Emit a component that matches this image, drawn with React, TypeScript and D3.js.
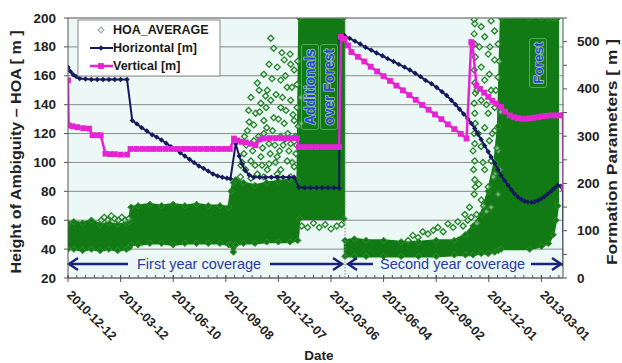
import React from "react";
import * as d3 from "d3";

// ---------- data ----------
const START_UTC = Date.UTC(2010, 11, 12);
const LAST_DAY = 847;
const majorTickDays = [0, 90, 180, 270, 360, 450, 540, 630, 720, 810];
const leftTicks = [20, 40, 60, 80, 100, 120, 140, 160, 180, 200];
const rightTicks = [0, 100, 200, 300, 400, 500];

// Horizontal [m] : [day since 2010-12-12, metres]
const horizontal: [number, number][] = [
  [0, 446], [4, 437], [9, 430], [14, 426], [20, 422], [30, 421], [40, 420], [50, 420], [60, 420], [70, 420],
  [80, 420], [90, 420], [101, 420], [110, 333], [118, 326], [126, 318], [135, 311], [144, 303], [152, 298],
  [160, 292], [168, 285], [176, 278], [184, 272], [192, 265], [200, 258], [208, 251], [216, 244], [224, 237],
  [232, 232], [240, 226], [248, 220], [256, 216], [264, 213], [272, 211], [278, 210], [287, 284], [293, 258],
  [298, 241], [303, 228], [310, 218], [318, 213], [328, 213], [338, 213], [348, 213], [358, 213], [368, 213],
  [378, 213], [387, 213], [395, 192], [405, 191], [415, 191], [425, 191], [435, 191], [445, 191], [455, 191],
  [464, 190], [465, 505], [473, 513], [482, 507], [491, 501], [500, 495], [509, 488], [519, 482], [528, 476],
  [538, 470], [547, 464], [557, 458], [566, 452], [576, 446], [585, 440], [594, 433], [603, 426], [612, 418],
  [622, 411], [631, 403], [640, 394], [648, 386], [656, 376], [663, 367], [670, 357], [677, 347], [684, 337],
  [690, 327], [696, 316], [701, 306], [707, 293], [713, 280], [719, 267], [724, 256], [730, 243], [736, 229],
  [741, 217], [747, 206], [753, 196], [759, 186], [764, 178], [770, 171], [776, 166], [781, 163], [787, 161],
  [793, 160], [798, 161], [804, 164], [810, 168], [815, 172], [821, 178], [827, 184], [832, 190], [838, 196],
  [843, 194], [847, 193], [848, 28],
];

// Vertical [m]
const vertical: [number, number][] = [
  [0, 418], [1, 323], [8, 321], [16, 319], [26, 317], [36, 316], [42, 302], [50, 302], [56, 302], [64, 263],
  [72, 262], [80, 262], [90, 261], [101, 261], [107, 273], [117, 273], [127, 273], [137, 273], [147, 273],
  [157, 273], [167, 273], [177, 273], [187, 273], [197, 273], [207, 273], [217, 273], [227, 273], [237, 273],
  [247, 273], [257, 273], [267, 273], [277, 273], [284, 295], [290, 291], [297, 288], [304, 287], [312, 284],
  [321, 281], [328, 293], [335, 295], [345, 296], [355, 296], [365, 296], [375, 296], [385, 296], [392, 296],
  [395, 277], [405, 277], [415, 277], [425, 277], [435, 277], [445, 277], [455, 277], [464, 277], [467, 510],
  [473, 506], [479, 492], [485, 478], [496, 468], [507, 458], [518, 447], [529, 437], [540, 427], [551, 417],
  [562, 407], [573, 397], [584, 387], [595, 377], [606, 366], [617, 356], [628, 346], [639, 336], [650, 325],
  [661, 315], [672, 305], [682, 295], [690, 499], [692, 495], [699, 407], [705, 400], [712, 392], [719, 383],
  [726, 375], [733, 369], [741, 362], [748, 352], [756, 344], [763, 340], [770, 338], [776, 337], [783, 337],
  [790, 338], [797, 339], [804, 340], [811, 342], [818, 343], [827, 344], [835, 344], [842, 344], [847, 344],
  [848, 190],
];

// HOA_AVERAGE dense cloud envelope: [day, low HOA, high HOA]
const hoaBandFirstYear: [number, number, number][] = [
  [0, 40, 58], [10, 40, 59], [25, 39, 58], [40, 40, 60], [55, 39, 57], [70, 40, 58], [85, 39, 57],
  [100, 40, 58], [105, 41, 59], [108, 43, 69], [120, 43, 70], [140, 44, 71], [160, 44, 70], [180, 43, 71],
  [200, 44, 70], [220, 44, 71], [240, 44, 70], [260, 44, 70], [275, 43, 69], [279, 43, 80], [283, 38, 86],
  [287, 43, 88], [300, 44, 86], [320, 44, 84], [340, 45, 86], [360, 45, 87], [380, 45, 88], [393, 46, 88],
  [396, 61, 200], [472, 61, 200],
];
const hoaBandSecondYear: [number, number, number][] = [
  [474, 35, 46], [490, 35, 47], [510, 35, 46], [540, 35, 46], [570, 35, 45], [600, 35, 45], [630, 35, 46],
  [661, 36, 46], [680, 36, 50], [693, 36, 56], [707, 37, 64], [719, 37, 80], [730, 38, 100], [736, 39, 125],
  [741, 40, 200], [790, 40, 200], [810, 42, 200], [822, 44, 200], [830, 50, 200], [835, 60, 200], [838, 70, 200],
];
// HOA_AVERAGE scattered points outside the dense cloud: [day, HOA]
const hoaScatter: [number, number][] = [
  [57, 60], [62, 62], [68, 60], [74, 63], [80, 61], [86, 60], [92, 62], [98, 60], [104, 61],
  [347, 186], [352, 179], [344, 168], [335, 161], [358, 166], [370, 171], [381, 168], [387, 164], [324, 155],
  [341, 150], [364, 157], [375, 152], [392, 154], [313, 145], [330, 141], [347, 143], [364, 138], [381, 143],
  [392, 138], [321, 134], [335, 129], [352, 131], [370, 127], [387, 129], [307, 122], [318, 115], [335, 120],
  [344, 113], [364, 118], [381, 113], [301, 106], [313, 101], [330, 104], [344, 99], [358, 104], [375, 101],
  [304, 95], [324, 92], [341, 95], [364, 95], [387, 97], [295, 90], [313, 89], [335, 90], [358, 92], [381, 90],
  [298, 100], [305, 112], [310, 128], [316, 108], [320, 98], [326, 118], [328, 135], [333, 110], [338, 146],
  [340, 124], [346, 106], [349, 158], [350, 122], [354, 112], [356, 147], [360, 130], [362, 108], [366, 176],
  [367, 145], [368, 112], [372, 160], [373, 136], [376, 120], [378, 108], [380, 175], [383, 152], [385, 133],
  [389, 118], [390, 106], [393, 170], [394, 125], [296, 98], [302, 118], [309, 136], [318, 126], [327, 150],
  [332, 98], [339, 138], [355, 100], [371, 116], [384, 100], [391, 112],
  [398, 145], [399, 127], [400, 56], [410, 55], [420, 58], [430, 55], [440, 57], [450, 54], [460, 56], [468, 57],
  [582, 46], [590, 49.5], [599, 48], [607, 52], [616, 50.5], [625, 53], [633, 55], [642, 52], [650, 57.5],
  [659, 55], [667, 59], [676, 56], [679, 64], [684, 60], [687, 69], [690, 62], [700, 58], [699, 64],
  [695, 199], [696, 196], [695, 189], [696, 182], [697, 173], [695, 164], [696, 155], [697, 148], [695, 141],
  [696, 134], [697, 127], [695, 120], [696, 113], [693, 108], [696, 101], [694, 95], [696, 88], [697, 83], [695, 78],
  [707, 194], [713, 187], [724, 198], [730, 191], [736, 182], [719, 175], [730, 171], [707, 166], [721, 161],
  [713, 157], [736, 159], [724, 150], [707, 143], [730, 138], [719, 134], [713, 124], [730, 122], [721, 115],
  [707, 111], [736, 108], [724, 101], [713, 95], [730, 92], [719, 83], [736, 78], [707, 74], [724, 69],
  [700, 150], [702, 120], [704, 180], [710, 100], [716, 140], [722, 180], [726, 120], [728, 90], [732, 150],
  [734, 110], [738, 170], [739, 95], [740, 135], [703, 85], [711, 70], [716, 66],
];

// ---------- layout ----------
const W = 622, H = 363;
const PL = 68, PR = 563, PT = 18, PB = 278;
const FONT = "'Liberation Sans', Arial, sans-serif";
const NAVY = "#161a5c";
const MAGENTA = "#e424d4";
const GREEN = "#127a14";
const BLUE_TXT = "#2a40e0";

const toDate = (d: number) => new Date(START_UTC + d * 86400000);

export default function App() {
  const x = d3.scaleUtc().domain([toDate(0), toDate(LAST_DAY)]).range([PL, PR]);
  const yL = d3.scaleLinear().domain([20, 200]).range([PB, PT]);
  const yR = d3.scaleLinear().domain([0, 550]).range([PB, PT]);
  const fmt = d3.utcFormat("%Y-%m-%d");

  const lineR = d3.line<[number, number]>().x((d) => x(toDate(d[0]))).y((d) => yR(d[1]));
  const band = d3
    .area<[number, number, number]>()
    .x((d) => x(toDate(d[0])))
    .y0((d) => yL(d[1]))
    .y1((d) => yL(d[2]));

  const diamond = (cx: number, cy: number, r: number) =>
    `M${cx},${cy - r}L${cx + r},${cy}L${cx},${cy + r}L${cx - r},${cy}Z`;

  const minorDays = d3.range(0, LAST_DAY + 1, 15);
  const rightMinor = d3.range(0, 551, 50);

  const arrowY = 264;
  const chevron = (tipX: number, dir: number) =>
    `M${tipX + dir * 9},${arrowY - 6}L${tipX},${arrowY}L${tipX + dir * 9},${arrowY + 6}`;

  const labels = [
    { t: "Additionals", cx: 310, cy: 87, fs: 14, len: 77 },
    { t: "over Forest", cx: 329, cy: 87, fs: 14, len: 77 },
    { t: "Forest", cx: 538, cy: 63, fs: 13.5, len: 41 },
  ];

  return (
    <svg
      width={W}
      height={H}
      style={{ position: "absolute", left: 0, top: 0, background: "#fff" }}
      fontFamily={FONT}
    >
      <defs>
        <clipPath id="plot">
          <rect x={PL} y={PT} width={PR - PL} height={PB - PT} />
        </clipPath>
      </defs>
      <rect x={PL} y={PT} width={PR - PL} height={PB - PT} fill="#ecf8f5" />
      {leftTicks.map((t) => (
        <line key={"g" + t} x1={PL} x2={PR} y1={yL(t)} y2={yL(t)} stroke="#8a8a8a" strokeWidth={1} />
      ))}

      <g clipPath="url(#plot)">
        {[hoaBandFirstYear, hoaBandSecondYear].map((b, i) => (
          <g key={"b" + i}>
            <path d={band(b) || ""} fill={GREEN} stroke={GREEN} strokeWidth={2.5} strokeLinejoin="round" />
            {b.map((d, j) => (
              <g key={j}>
                <path d={diamond(x(toDate(d[0])), yL(d[2]), 3.2)} fill={GREEN} stroke="#2f8f2f" strokeWidth={1} />
                <path d={diamond(x(toDate(d[0])), yL(d[1]), 3.2)} fill={GREEN} stroke="#2f8f2f" strokeWidth={1} />
              </g>
            ))}
          </g>
        ))}
        {hoaScatter.map((d, i) => (
          <path
            key={"s" + i}
            d={diamond(x(toDate(d[0])), yL(d[1]), 3)}
            fill="#e4f4e4"
            fillOpacity={0.5}
            stroke="#23842a"
            strokeWidth={1.3}
          />
        ))}
      </g>

      {/* separator */}
      <line x1={x(toDate(474))} x2={x(toDate(474))} y1={PT} y2={PB} stroke="#7a8a8a" strokeWidth={1} strokeDasharray="1.5,1.5" />

      {/* annotation labels */}
      {labels.map((a) => (
        <g key={a.t}>
          <rect
            x={a.cx - 8.5}
            y={a.cy - a.len / 2 - 4}
            width={17}
            height={a.len + 8}
            rx={2}
            fill="none"
            stroke="#6fbf6f"
            strokeOpacity={0.7}
            strokeWidth={1}
          />
          <text
            transform={`translate(${a.cx},${a.cy}) rotate(-90)`}
            textAnchor="middle"
            dominantBaseline="central"
            fontSize={a.fs}
            fontWeight="bold"
            fill={BLUE_TXT}
            stroke="#8fd08f"
            strokeWidth={1.6}
            paintOrder="stroke"
            strokeLinejoin="round"
          >
            {a.t}
          </text>
        </g>
      ))}

      {/* formation lines */}
      <g clipPath="url(#plot)">
        <path d={lineR(horizontal) || ""} fill="none" stroke={NAVY} strokeWidth={2} />
        {horizontal.map((d, i) => (
          <path key={"h" + i} d={diamond(x(toDate(d[0])), yR(d[1]), 2.7)} fill={NAVY} />
        ))}
        <path d={lineR(vertical) || ""} fill="none" stroke={MAGENTA} strokeWidth={2.5} />
        {vertical.map((d, i) => (
          <rect key={"v" + i} x={x(toDate(d[0])) - 2.9} y={yR(d[1]) - 2.9} width={5.8} height={5.8} fill={MAGENTA} />
        ))}
      </g>

      {/* coverage arrows */}
      <g stroke="#1c2478" strokeWidth={2.5} fill="none">
        <line x1={69} x2={128} y1={arrowY} y2={arrowY} />
        <path d={chevron(69, 1)} />
        <line x1={270} x2={342} y1={arrowY} y2={arrowY} />
        <path d={chevron(342, -1)} />
        <line x1={348} x2={373} y1={arrowY} y2={arrowY} />
        <path d={chevron(348, 1)} />
        <line x1={531} x2={561} y1={arrowY} y2={arrowY} />
        <path d={chevron(561, -1)} />
      </g>
      <text x={137} y={arrowY} dominantBaseline="central" fontSize={14.5} fill="#2b3a9e">First year coverage</text>
      <text x={380} y={arrowY} dominantBaseline="central" fontSize={14.5} fill="#2b3a9e">Second year coverage</text>

      {/* frame */}
      <line x1={PL} x2={PR} y1={PT} y2={PT} stroke="#888" />
      <line x1={PL} x2={PL} y1={PT} y2={PB} stroke="#555" />
      <line x1={PR} x2={PR} y1={PT} y2={PB} stroke="#555" />
      <line x1={PL} x2={PR} y1={PB} y2={PB} stroke="#555" />

      {/* left axis */}
      {leftTicks.map((t) => (
        <g key={"l" + t}>
          <line x1={PL - 4} x2={PL} y1={yL(t)} y2={yL(t)} stroke="#555" />
          <text x={56} y={yL(t)} textAnchor="end" dominantBaseline="central" fontSize={13.5} fontWeight="bold" fill="#222">
            {t}
          </text>
        </g>
      ))}
      {/* right axis */}
      {rightMinor.map((t) => (
        <line key={"rm" + t} x1={PR} x2={PR + 4} y1={yR(t)} y2={yR(t)} stroke="#555" />
      ))}
      {rightTicks.map((t) => (
        <text key={"r" + t} x={577} y={yR(t)} dominantBaseline="central" fontSize={13.5} fontWeight="bold" fill="#222">
          {t}
        </text>
      ))}
      {/* x axis */}
      {minorDays.map((d) => (
        <line key={"xm" + d} x1={x(toDate(d))} x2={x(toDate(d))} y1={PB - 3} y2={PB} stroke="#555" />
      ))}
      {majorTickDays.map((d) => {
        const px = x(toDate(d));
        return (
          <g key={"x" + d}>
            <line x1={px} x2={px} y1={PB - 3} y2={PB + 4} stroke="#555" />
            <text
              transform={`translate(${px + 1},${PB + 15}) rotate(45)`}
              dominantBaseline="central"
              fontSize={12.5}
              fontWeight="bold"
              fill="#222"
            >
              {fmt(toDate(d))}
            </text>
          </g>
        );
      })}

      {/* axis titles */}
      <text
        transform={`translate(16,152) rotate(-90)`}
        textAnchor="middle"
        dominantBaseline="central"
        fontSize={14}
        fontWeight="bold"
        fill="#222"
        textLength={243}
        lengthAdjust="spacingAndGlyphs"
      >
        Height of Ambiguity – HOA  [ m ]
      </text>
      <text
        transform={`translate(612,152) rotate(-90)`}
        textAnchor="middle"
        dominantBaseline="central"
        fontSize={14}
        fontWeight="bold"
        fill="#222"
        textLength={226}
        lengthAdjust="spacingAndGlyphs"
      >
        Formation Parameters [ m ]
      </text>
      <text x={319} y={355} textAnchor="middle" dominantBaseline="central" fontSize={13.5} fontWeight="bold" fill="#222">
        Date
      </text>

      {/* legend */}
      <g>
        <rect x={78} y={20} width={142} height={56} fill="#fff" stroke="#888" />
        <path d={diamond(101, 30, 3)} fill="#eef4ee" stroke="#a0b4a0" strokeWidth={1.2} />
        <text x={113} y={30} dominantBaseline="central" fontSize={12.5} fontWeight="bold" fill="#1a1a1a">HOA_AVERAGE</text>
        <line x1={90} x2={113} y1={48} y2={48} stroke={NAVY} strokeWidth={2} />
        <path d={diamond(101, 48, 2.8)} fill={NAVY} />
        <text x={113} y={48} dominantBaseline="central" fontSize={12.5} fontWeight="bold" fill="#1a1a1a">Horizontal [m]</text>
        <line x1={90} x2={113} y1={66} y2={66} stroke={MAGENTA} strokeWidth={2.5} />
        <rect x={98.1} y={63.1} width={5.8} height={5.8} fill={MAGENTA} />
        <text x={113} y={66} dominantBaseline="central" fontSize={12.5} fontWeight="bold" fill="#1a1a1a">Vertical [m]</text>
      </g>
    </svg>
  );
}
